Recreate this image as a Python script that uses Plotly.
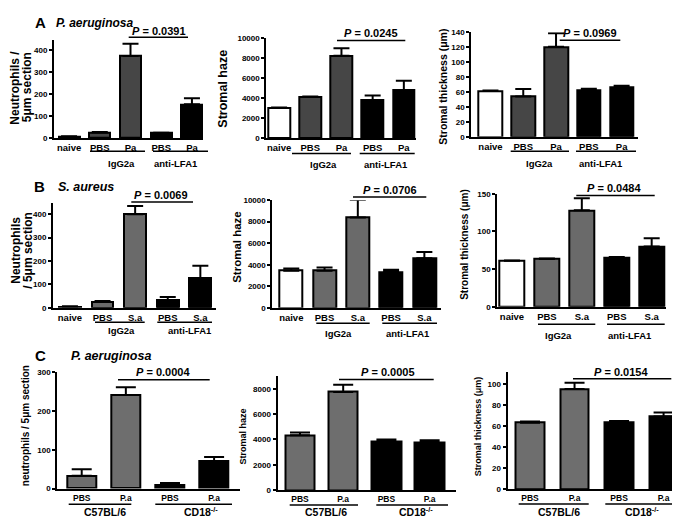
import plotly.graph_objects as go

W, H = 680, 517
FONT = "Liberation Sans, Arial, Helvetica, sans-serif"

# ---------------- data ----------------
a_ticks = ["naive", "PBS", "Pa", "PBS", "Pa"]
a_groups = ["IgG2a", "anti-LFA1"]
a_neutrophils = [7, 25, 372, 22, 153]
a_neutrophils_err = [1, 3, 56, 2, 28]
a_haze = [3000, 4100, 8230, 3800, 4800]
a_haze_err = [60, 60, 740, 450, 940]
a_thickness = [61.5, 54, 120.5, 63, 66.5]
a_thickness_err = [0.3, 10, 18, 1.3, 1.7]
a_pvalues = ["0.0391", "0.0245", "0.0969"]

b_ticks = ["naive", "PBS", "S.a", "PBS", "S.a"]
b_groups = ["IgG2a", "anti-LFA1"]
b_neutrophils = [5, 25, 400, 32, 127]
b_neutrophils_err = [1, 4, 35, 14, 52]
b_haze = [3450, 3450, 8380, 3350, 4600]
b_haze_err = [210, 300, 1650, 180, 580]
b_thickness = [61, 63.5, 128, 65, 80]
b_thickness_err = [0.3, 0.5, 16, 1, 11]
b_pvalues = ["0.0069", "0.0706", "0.0484"]

c_ticks = ["PBS", "P.a", "PBS", "P.a"]
c_groups = ["C57BL/6", "CD18<sup>-/-</sup>"]
c_neutrophils = [33, 241, 10, 70]
c_neutrophils_err = [17, 20, 4, 11]
c_haze = [4330, 7740, 3870, 3790]
c_haze_err = [230, 570, 130, 150]
c_thickness = [63.5, 95.5, 64.3, 69.3]
c_thickness_err = [1, 6, 0.8, 3.8]
c_pvalues = ["0.0004", "0.0005", "0.0154"]

# ---------------- styles ----------------
WHITE, BLACK = "#ffffff", "#000000"
A_GREY, B_GREY, C_GREY = "#464646", "#6a6a6a", "#6e6e6e"
a_colors = [WHITE, A_GREY, A_GREY, BLACK, BLACK]
b_colors = [WHITE, B_GREY, B_GREY, BLACK, BLACK]
c_colors = [C_GREY, C_GREY, BLACK, BLACK]

# box = (axis left px, axis right px, axis top px, zero-line px)
panels = [
    dict(y=a_neutrophils, e=a_neutrophils_err, t=a_ticks, c=a_colors, box=(46, 195, 28.3, 128.3),
         xr=(-0.49, 4.36), yr=(0, 446), dt=100, bw=0.68, cap=8, tf=9.5),
    dict(y=a_haze, e=a_haze_err, t=a_ticks, c=a_colors, box=(258.3, 408, 26.5, 128.3),
         xr=(-0.41, 4.39), yr=(0, 10000), dt=2000, bw=0.70, cap=8, tf=9.5),
    dict(y=a_thickness, e=a_thickness_err, t=a_ticks, c=a_colors, box=(463.3, 630, 20.5, 127),
         xr=(-0.585, 4.5), yr=(0, 140), dt=20, bw=0.72, cap=8, tf=9.5),
    dict(y=b_neutrophils, e=b_neutrophils_err, t=b_ticks, c=b_colors, box=(45, 208, 194.3, 301),
         xr=(-0.52, 4.48), yr=(0, 448), dt=100, bw=0.67, cap=8, tf=9.5),
    dict(y=b_haze, e=b_haze_err, t=b_ticks, c=b_colors, box=(264.3, 433, 191.5, 301),
         xr=(-0.57, 4.5), yr=(0, 10000), dt=2000, bw=0.69, cap=8, tf=9.5),
    dict(y=b_thickness, e=b_thickness_err, t=b_ticks, c=b_colors, box=(489.3, 658, 185, 300),
         xr=(-0.42, 4.41), yr=(0, 150), dt=50, bw=0.70, cap=8, tf=9.5),
    dict(y=c_neutrophils, e=c_neutrophils_err, t=c_ticks, c=c_colors, box=(49.3, 231.7, 366.5, 485),
         xr=(-0.553, 3.58), yr=(0, 300), dt=100, bw=0.66, cap=10, tf=8.5),
    dict(y=c_haze, e=c_haze_err, t=c_ticks, c=c_colors, box=(269.5, 448, 370, 486.7),
         xr=(-0.52, 3.61), yr=(0, 9040), dt=2000, bw=0.68, cap=10, tf=8.5),
    dict(y=c_thickness, e=c_thickness_err, t=c_ticks, c=c_colors, box=(499.5, 676.5, 366.7, 485.7),
         xr=(-0.506, 3.47), yr=(0, 111.5), dt=20, bw=0.64, cap=10, tf=8.5),
]

fig = go.Figure()
layout = {}
for i, p in enumerate(panels, start=1):
    xs = list(range(len(p["y"])))
    xa, ya = ("x%d" % i if i > 1 else "x"), ("y%d" % i if i > 1 else "y")
    fig.add_trace(go.Bar(
        x=xs, y=p["y"], width=p["bw"], xaxis=xa, yaxis=ya,
        marker=dict(color=p["c"], line=dict(color=BLACK, width=2)),
        error_y=dict(type="data", array=p["e"], arrayminus=[0] * len(p["e"]), symmetric=False,
                     color=BLACK, thickness=2, width=p["cap"]),
        showlegend=False, hoverinfo="skip",
    ))
    x0, x1, yt, yb = p["box"]
    layout["xaxis%d" % i] = dict(
        domain=[x0 / W, x1 / W], anchor=ya, range=list(p["xr"]), showgrid=False, zeroline=False,
        showline=True, linecolor=BLACK, linewidth=2, ticks="", tickvals=xs, ticktext=p["t"],
        tickfont=dict(family=FONT, size=p["tf"], color=BLACK, weight="bold"), fixedrange=True,
    )
    layout["yaxis%d" % i] = dict(
        domain=[1 - yb / H, 1 - yt / H], anchor=xa, range=list(p["yr"]), showgrid=False,
        zeroline=False, showline=True, linecolor=BLACK, linewidth=2, ticks="outside", ticklen=3,
        tickwidth=1.5, tickcolor=BLACK, tick0=0, dtick=p["dt"], tickformat="d",
        ticklabeloverflow="allow",
        tickfont=dict(family=FONT, size=8, color=BLACK, weight="bold"), fixedrange=True,
    )

shapes, annos = [], []
ROT_DX = -4  # compensation for where rotated annotations land


def hline(xa_, xb_, y_, w=1.5):
    shapes.append(dict(type="line", xref="paper", yref="paper", x0=xa_ / W, x1=xb_ / W,
                       y0=1 - y_ / H, y1=1 - y_ / H, line=dict(color=BLACK, width=w)))


def text(t, x_, y_, size, anchor="center", angle=0, italic=False):
    if angle:
        x_ += ROT_DX
    annos.append(dict(text=t, xref="paper", yref="paper", x=x_ / W, y=1 - y_ / H, xanchor=anchor,
                      yanchor="middle", showarrow=False, textangle=angle, borderpad=0,
                      font=dict(family=FONT, size=size, color=BLACK, weight="bold",
                                style="italic" if italic else "normal")))


def ptext(v, x_, y_):
    text("<i>P</i> = " + v, x_, y_, 11)


# ---- Row A ----
text("A", 32, 11, 15)
text("P. aeruginosa", 47, 11, 12, anchor="left", italic=True)
text("Neutrophils /", 11, 77, 12, angle=-90)
text("5μm section", 22.5, 77, 12, angle=-90)
text("Stromal haze", 219, 78, 12.5, angle=-90)
text("Stromal thickness (μm)", 439, 76, 10.5, angle=-90)
# underlines and group labels
for (g1, g2, yl, yg, c1, c2) in [((82, 137), (145, 200), 141.7, 154, 113, 168),
                                 ((284, 343), (351.7, 406.7), 144, 155.7, 315, 378),
                                 ((502.7, 561), (568, 628), 141.7, 154, 531.7, 593)]:
    hline(g1[0], g1[1], yl)
    hline(g2[0], g2[1], yl)
    text(a_groups[0], c1, yg, 9.5)
    text(a_groups[1], c2, yg, 9.5)
for (pv, (l0, l1, ly), (tx, ty)) in zip(a_pvalues,
                                        [(120.7, 180, 25.7), (329, 397.3, 29), (551.7, 612.3, 28.7)],
                                        [(151, 19.5), (363, 21.7), (582, 21.7)]):
    hline(l0, l1, ly)
    ptext(pv, tx, ty)

# ---- Row B ----
text("B", 31, 178, 15)
text("S. aureus", 49, 178, 12.5, anchor="left", italic=True)
text("Neutrophils", 12, 243, 12, angle=-90)
text("/ 5μm section", 24, 243, 12, angle=-90)
text("Stromal haze", 233, 239, 11.5, angle=-90)
text("Stromal thickness (μm)", 461, 237, 10, angle=-90)
for (g1, g2, yl, yg, c1, c2) in [((87, 136.7), (149.3, 204), 315.7, 324.5, 113.3, 181.7),
                                 ((308.3, 361.7), (374.3, 429), 316.7, 326.7, 330, 400),
                                 ((530, 587.3), (599, 656.7), 317.7, 329, 550, 621.7)]:
    hline(g1[0], g1[1], yl)
    hline(g2[0], g2[1], yl)
    text(b_groups[0], c1, yg, 9.5)
    text(b_groups[1], c2, yg, 9.5)
for (pv, (l0, l1, ly), (tx, ty)) in zip(b_pvalues,
                                        [(123.3, 185, 193.3), (345, 418.3, 188.3), (568.3, 646.7, 186.7)],
                                        [(153.3, 186.7), (381.7, 181), (605.7, 179)]):
    hline(l0, l1, ly)
    ptext(pv, tx, ty)

# ---- Row C ----
text("C", 32, 350, 15)
text("P. aeruginosa", 62, 350, 12.5, anchor="left", italic=True)
text("neutrophils / 5μm section", 21, 421.5, 10, angle=-90)
text("Stromal haze", 239, 432, 9, angle=-90)
text("Stromal thickness (μm)", 474, 421.7, 9, angle=-90)
for (g1, g2, yl, yg, c1, c2) in [((60.7, 123.3), (147.3, 224), 501, 508.5, 96.7, 193.3),
                                 ((281.7, 350), (368.3, 440), 501.7, 508.5, 318, 408),
                                 ((510.7, 580.7), (597.3, 673.3), 500.7, 508.5, 551, 634)]:
    hline(g1[0], g1[1], yl)
    hline(g2[0], g2[1], yl)
    text(c_groups[0], c1, yg, 10.5)
    text(c_groups[1], c2, yg, 10.5)
for (pv, (l0, l1, ly), (tx, ty)) in zip(c_pvalues,
                                        [(110, 201.7, 374.3), (331, 425.7, 374), (565, 663.3, 373.3)],
                                        [(155, 366.7), (380, 366), (613.3, 366.7)]):
    hline(l0, l1, ly)
    ptext(pv, tx, ty)

fig.update_layout(
    width=W, height=H, margin=dict(l=0, r=0, t=0, b=0), paper_bgcolor=WHITE, plot_bgcolor=WHITE,
    shapes=shapes, annotations=annos, bargap=0, font=dict(family=FONT, color=BLACK),
    **layout,
)
fig.write_html("out.html")
